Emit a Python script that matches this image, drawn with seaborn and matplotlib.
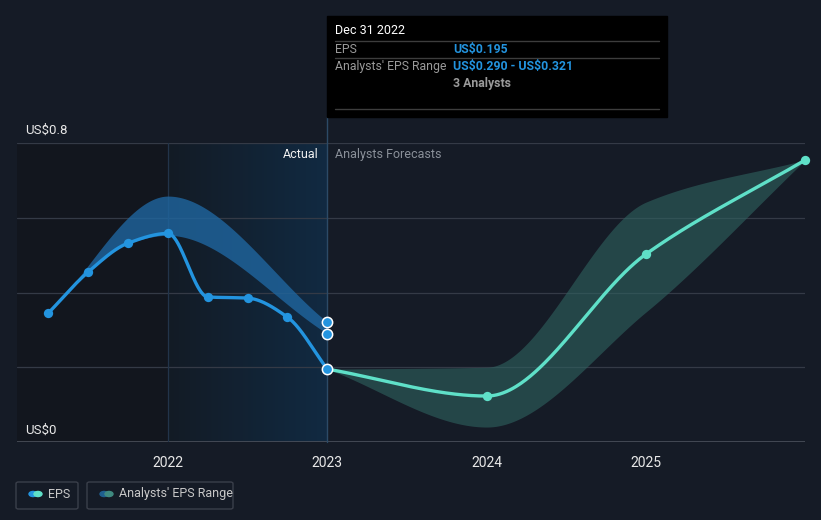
import numpy as np
import pandas as pd
import matplotlib
matplotlib.use("Agg")
import matplotlib.pyplot as plt
from matplotlib.patches import Rectangle, FancyBboxPatch, Circle
from matplotlib.colors import LinearSegmentedColormap
import seaborn as sns

# ---------------- data ----------------
eps_dates = [2021.25, 2021.5, 2021.75, 2022.0, 2022.25, 2022.5, 2022.75, 2023.0]
eps_values = [0.345, 0.455, 0.532, 0.558, 0.388, 0.385, 0.334, 0.195]

past_low_dates = [2021.25, 2021.5, 2021.75, 2022.0, 2023.0]
past_range_low = [0.345, 0.455, 0.532, 0.553, 0.290]
past_high_dates = [2021.25, 2022.0, 2023.0]
past_range_high = [0.345, 0.658, 0.321]

fc_dates = [2023.0, 2024.0, 2025.0, 2026.0]
fc_values = [0.195, 0.123, 0.503, 0.755]
fc_low = [0.195, 0.040, 0.348, 0.755]
fc_high = [0.195, 0.200, 0.642, 0.755]

year_ticks = [2022, 2023, 2024, 2025]
y_ticks = [0.0, 0.2, 0.4, 0.6, 0.8]

# ---------------- helpers ----------------
def monotone(x, y, xs):
    x = np.asarray(x, float); y = np.asarray(y, float)
    h = np.diff(x); d = np.diff(y) / h
    m = np.zeros_like(y)
    m[0] = d[0]; m[-1] = d[-1]
    for i in range(1, len(y) - 1):
        if d[i - 1] * d[i] <= 0:
            m[i] = 0
        else:
            w1 = 2 * h[i] + h[i - 1]; w2 = h[i] + 2 * h[i - 1]
            m[i] = (w1 + w2) / (w1 / d[i - 1] + w2 / d[i])
    ys = np.empty_like(xs)
    for j, xv in enumerate(xs):
        k = min(max(np.searchsorted(x, xv, side="right") - 1, 0), len(x) - 2)
        t = (xv - x[k]) / h[k]
        h00 = 2 * t**3 - 3 * t**2 + 1; h10 = t**3 - 2 * t**2 + t
        h01 = -2 * t**3 + 3 * t**2; h11 = t**3 - t**2
        ys[j] = h00 * y[k] + h10 * h[k] * m[k] + h01 * y[k + 1] + h11 * h[k] * m[k + 1]
    return ys

BG = "#151b26"
BLUE = "#2394df"
TEAL = "#5fe0c8"
FONT = ["Roboto", "DejaVu Sans"]

sns.set_theme(style="dark")
plt.rcParams["font.family"] = FONT

W, H = 821, 520
fig = plt.figure(figsize=(W / 100, H / 100), dpi=100, facecolor=BG)

x0, x1 = 17, 805
ytop, ybot = 143, 442
ax = fig.add_axes([x0 / W, 1 - ybot / H, (x1 - x0) / W, (ybot - ytop) / H])
ax.set_facecolor(BG)

xmin = 2022 - (168 - 17) / 159.5
xmax = 2023 + (805 - 327) / 159.5

# background regions
ax.axvspan(xmin, 2022.0, color="#12161e", zorder=0, lw=0)
grad = np.linspace(0, 1, 512).reshape(1, -1)
cmap = LinearSegmentedColormap.from_list("g", ["#131b25", "#112a42"])
ax.imshow(grad, extent=[2022.0, 2023.0, 0, 0.8], aspect="auto", cmap=cmap, zorder=0,
          interpolation="bilinear")
ax.set_xlim(xmin, xmax)
ax.set_ylim(0, 0.8)

# gridlines
for yv in y_ticks[1:]:
    ax.axhline(yv, color="#343a46", lw=0.9, zorder=1)
ax.axhline(0, color="#4b505b", lw=1.2, zorder=1)
ax.axvline(2022.0, color="#22344a", lw=0.9, zorder=1)
ax.plot([2023.0, 2023.0], [0, 0.8 * (442 - 117) / 299], color="#2c4a66", lw=1.0,
        zorder=1, clip_on=False)

# past range band
bx = np.linspace(eps_dates[0], eps_dates[-1], 300)
bl = monotone(past_low_dates, past_range_low, bx)
bh = monotone(past_high_dates, past_range_high, bx)
ax.fill_between(bx, bl, bh, color="#1f66a0", alpha=0.8, lw=0, zorder=2)

# forecast band
fxs = np.linspace(fc_dates[0], fc_dates[-1], 300)
fl = monotone(fc_dates, fc_low, fxs)
fh = monotone(fc_dates, fc_high, fxs)
ax.fill_between(fxs, fl, fh, color="#2f6360", alpha=0.6, lw=0, zorder=2)

# EPS lines
ex = np.linspace(eps_dates[0], eps_dates[-1], 300)
ey = monotone(eps_dates, eps_values, ex)
sns.lineplot(x=ex, y=ey, ax=ax, color=BLUE, lw=2.4, zorder=4)
gy = monotone(fc_dates, fc_values, fxs)
sns.lineplot(x=fxs, y=gy, ax=ax, color=TEAL, lw=2.4, zorder=4)

sns.scatterplot(x=eps_dates[:-1], y=eps_values[:-1], ax=ax, color=BLUE, s=45,
                linewidth=0, zorder=5)
sns.scatterplot(x=fc_dates[1:], y=fc_values[1:], ax=ax, color=TEAL, s=45,
                linewidth=0, zorder=5, clip_on=False)
sns.scatterplot(x=[2023.0, 2023.0, 2023.0],
                y=[eps_values[-1], past_range_low[-1], past_range_high[-1]],
                ax=ax, color=BLUE, s=55, edgecolor="white", linewidth=1.1, zorder=6,
                clip_on=False)

ax.set_xticks(year_ticks)
ax.set_xticklabels([str(y) for y in year_ticks], color="#e8e8e8", fontsize=10)
ax.tick_params(axis="x", length=4, color="#4b505b", pad=6)
ax.set_yticks([])
for s in ax.spines.values():
    s.set_visible(False)
ax.set_xlabel(""); ax.set_ylabel("")

def fx_(px): return px / W
def fy_(py): return 1 - py / H

fig.text(fx_(25), fy_(130), "US\\$0.8", color="#e8e8e8", fontsize=9.5, va="center")
fig.text(fx_(25), fy_(430), "US\\$0", color="#e8e8e8", fontsize=9.5, va="center")
fig.text(fx_(319), fy_(154), "Actual", color="#f0f0f0", fontsize=9, va="center", ha="right")
fig.text(fx_(335), fy_(154), "Analysts Forecasts", color="#8a9099", fontsize=9, va="center")

# tooltip
fig.patches.append(Rectangle((fx_(327), fy_(117)), (667 - 327) / W, (117 - 16) / H,
                             transform=fig.transFigure, color="#000000", zorder=10))
for py in [41.5, 58, 109]:
    fig.lines.append(plt.Line2D([fx_(335), fx_(659)], [fy_(py), fy_(py)],
                                transform=fig.transFigure, color="#3d3d3d", lw=1, zorder=11))
fig.text(fx_(335), fy_(31), "Dec 31 2022", color="#ffffff", fontsize=9, va="center", zorder=12)
fig.text(fx_(335), fy_(49.5), "EPS", color="#9a9a9a", fontsize=8.8, va="center", zorder=12)
fig.text(fx_(453), fy_(49.5), "US\\$0.195", color=BLUE, fontsize=8.8, va="center",
         fontweight="bold", zorder=12)
fig.text(fx_(335), fy_(66.5), "Analysts' EPS Range", color="#9a9a9a", fontsize=8.8,
         va="center", zorder=12)
fig.text(fx_(453), fy_(66.5), "US\\$0.290 - US\\$0.321", color=BLUE, fontsize=8.8, va="center",
         fontweight="bold", zorder=12)
fig.text(fx_(453), fy_(83.5), "3 Analysts", color="#9a9a9a", fontsize=8.8, va="center",
         fontweight="bold", zorder=12)

# legend boxes
for (lx, lw_, label, c1, c2) in [(16, 62, "EPS", BLUE, TEAL),
                                 (87, 146, "Analysts' EPS Range", "#1f5f8f", "#3f8a80")]:
    fig.patches.append(FancyBboxPatch((fx_(lx), fy_(509)), lw_ / W, 27 / H,
                                      boxstyle="round,pad=0,rounding_size=0.003",
                                      transform=fig.transFigure, facecolor="none",
                                      edgecolor="#3a3f4a", lw=1))
    fig.patches.append(Circle((fx_(lx + 17), fy_(494)), 4.0 / W, transform=fig.transFigure,
                              color=c1, zorder=3))
    fig.patches.append(Circle((fx_(lx + 22), fy_(494)), 4.0 / W, transform=fig.transFigure,
                              color=c2, zorder=4))
    fig.text(fx_(lx + 32), fy_(494), label, color="#c8c8c8", fontsize=9, va="center")

fig.savefig("out.png", dpi=100, facecolor=BG)
